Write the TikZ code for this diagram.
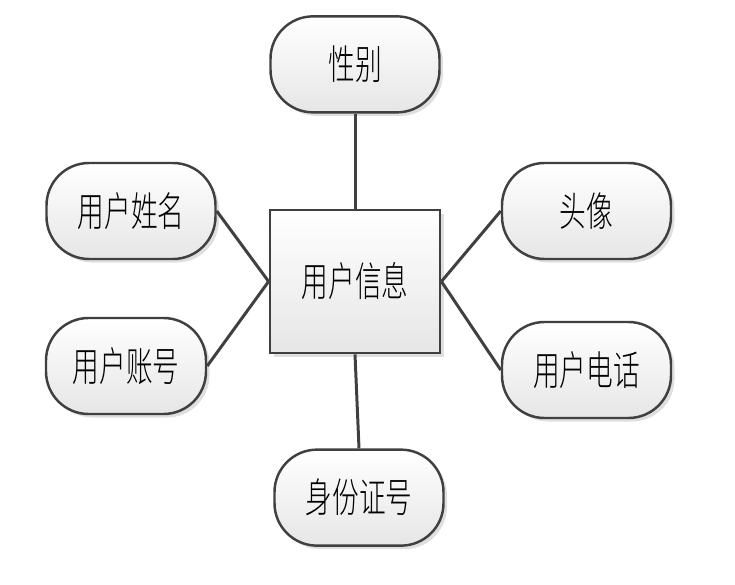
\documentclass[tikz,border=0pt]{standalone}
\usepackage{fontspec}
\newfontfamily\cjk[FakeStretch=0.66, UprightFont=* Light]{Noto Sans CJK SC}
\usetikzlibrary{positioning, shadows}
\definecolor{edgedark}{HTML}{404040}
\definecolor{fillbottom}{HTML}{E6E6E6}

\begin{document}
\begin{tikzpicture}[
    font=\cjk\fontsize{23}{27}\selectfont,
    attrbox/.style={
        draw=edgedark, line width=1.4pt, rounded corners=0.85cm,
        top color=white, bottom color=fillbottom,
        minimum width=3.38cm, minimum height=1.92cm,
        drop shadow={opacity=0.25, shadow xshift=2pt, shadow yshift=-2pt},
        text=black, inner sep=2pt
    },
    entbox/.style={
        draw=edgedark, line width=1.6pt,
        top color=white, bottom color=fillbottom,
        minimum width=3.4cm, minimum height=2.86cm,
        drop shadow={opacity=0.25, shadow xshift=2pt, shadow yshift=-2pt},
        text=black, inner sep=2pt
    },
    link/.style={draw=edgedark, line width=1.7pt},
]
\useasboundingbox (0,0) rectangle (14.7,-11.7);

% entity in the middle
\node[entbox] (info) at (7.10,-5.63) {用户信息};

% attributes
\node[attrbox, above=1.9cm of info] (sex) {性别};
\node[attrbox, below=1.88cm of info, xshift=0.08cm] (idno) {身份证号};
\node[attrbox] (name) at (2.62,-4.22) {用户姓名};
\node[attrbox, minimum width=3.2cm] (account) at (2.52,-7.32) {用户账号};
\node[attrbox] (avatar) at (11.73,-4.22) {头像};
\node[attrbox] (phone) at (11.73,-7.40) {用户电话};

% links
\draw[link] (sex.south) -- (info.north);
\draw[link] (info.south) -- (idno.north);
\draw[link] (name.east) -- (info.west);
\draw[link] (account.east) -- (info.west);
\draw[link] (avatar.west) -- (info.east);
\draw[link] (phone.west) -- (info.east);

\end{tikzpicture}
\end{document}
